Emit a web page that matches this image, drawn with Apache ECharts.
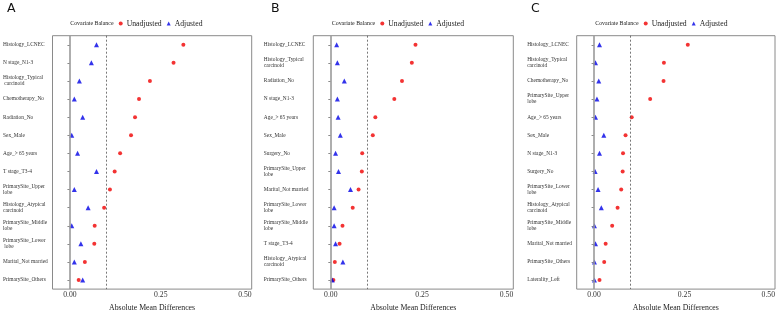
<!DOCTYPE html>
<html>
<head>
<meta charset="utf-8">
<script src="https://cdn.jsdelivr.net/npm/echarts@6/dist/echarts.min.js"></script>
<style>
  html, body { margin: 0; padding: 0; background: #fff; }
  #chart { width: 778px; height: 317px; }
</style>
</head>
<body>
<div id="chart"></div>
<script>
// covariate names, top to bottom, one list per panel
const catsA = ['Histology_LCNEC', 'N stage_N1-3', 'Histology_Typical\n carcinoid', 'Chemotherapy_No', 'Radiation_No',
  'Sex_Male', 'Age_> 65 years', 'T stage_T3-4', 'PrimarySite_Upper\nlobe', 'Histology_Atypical\ncarcinoid',
  'PrimarySite_Middle\nlobe', 'PrimarySite_Lower\n lobe', 'Marital_Not married', 'PrimarySite_Others'];
const unadjA = [0.312, 0.285, 0.220, 0.190, 0.179, 0.168, 0.138, 0.123, 0.110, 0.094, 0.068, 0.067, 0.041, 0.024];
const adjA = [0.073, 0.059, 0.026, 0.012, 0.035, 0.005, 0.021, 0.073, 0.012, 0.050, 0.005, 0.030, 0.012, 0.035];

const catsB = ['Histology_LCNEC', 'Histology_Typical\ncarcinoid', 'Radiation_No', 'N stage_N1-3', 'Age_> 65 years',
  'Sex_Male', 'Surgery_No', 'PrimarySite_Upper\nlobe', 'Marital_Not married', 'PrimarySite_Lower\nlobe',
  'PrimarySite_Middle\nlobe', 'T stage_T3-4', 'Histology_Atypical\ncarcinoid', 'PrimarySite_Others'];
const unadjB = [0.232, 0.222, 0.195, 0.174, 0.122, 0.115, 0.086, 0.085, 0.076, 0.060, 0.032, 0.024, 0.011, 0.007];
const adjB = [0.016, 0.018, 0.037, 0.018, 0.020, 0.026, 0.013, 0.021, 0.054, 0.009, 0.009, 0.013, 0.033, 0.004];

const catsC = ['Histology_LCNEC', 'Histology_Typical\ncarcinoid', 'Chemotherapy_No', 'PrimarySite_Upper\nlobe',
  'Age_> 65 years', 'Sex_Male', 'N stage_N1-3', 'Surgery_No', 'PrimarySite_Lower\nlobe',
  'Histology_Atypical\ncarcinoid', 'PrimarySite_Middle\nlobe', 'Marital_Not married', 'PrimarySite_Others', 'Laterality_Left'];
const unadjC = [0.259, 0.193, 0.192, 0.155, 0.104, 0.087, 0.080, 0.079, 0.075, 0.065, 0.050, 0.032, 0.028, 0.015];
const adjC = [0.015, 0.004, 0.013, 0.008, 0.004, 0.027, 0.015, 0.003, 0.011, 0.020, 0.001, 0.004, 0.001, 0.001];

const xTicks = [0, 0.25, 0.5];
const panelLetters = ['A', 'B', 'C'];

const panels = [
  { cats: catsA, unadj: unadjA, adj: adjA, left: 51.7, letterX: 7 },
  { cats: catsB, unadj: unadjB, adj: adjB, left: 313.3, letterX: 271 },
  { cats: catsC, unadj: unadjC, adj: adjC, left: 576.7, letterX: 531 },
];

const serif = 'Liberation Serif, Times New Roman, serif';
const RED = '#f00000';
const BLUE = '#0000e6';

const grid = [], xAxis = [], yAxis = [], series = [], title = [], legend = [];

panels.forEach((p, i) => {
  grid.push({
    left: p.left, top: 35.7, width: 200, height: 260,
    show: true, borderColor: '#8a8a8a', borderWidth: 1, backgroundColor: '#fff',
  });
  xAxis.push({
    gridIndex: i, type: 'value', min: -0.048, max: 0.5,
    axisLine: { show: false },
    axisTick: { show: false },
    splitLine: { show: false },
    axisLabel: {
      customValues: xTicks,
      formatter: (v) => v.toFixed(2),
      fontFamily: serif, fontSize: 7.7, color: '#333', margin: 2,
      alignMaxLabel: 'right',
    },
    name: 'Absolute Mean Differences',
    nameLocation: 'middle', nameGap: 10,
    nameTextStyle: { fontFamily: serif, fontSize: 7.8, color: '#222' },
  });
  yAxis.push({
    gridIndex: i, type: 'category', inverse: true, data: p.cats,
    axisLine: { show: false },
    axisTick: { show: true, alignWithLabel: true, length: 2.5, lineStyle: { color: '#8a8a8a' } },
    axisLabel: {
      align: 'left', margin: 49.5, fontFamily: serif, fontSize: 5.4, lineHeight: 6,
      color: '#333', interval: 0,
    },
  });
  series.push({
    name: 'Unadjusted', type: 'scatter', xAxisIndex: i, yAxisIndex: i,
    data: p.unadj, symbol: 'circle', symbolSize: 4,
    itemStyle: { color: RED },
    z: 3,
    markLine: {
      silent: true, symbol: 'none', label: { show: false },
      data: [
        { xAxis: 0, lineStyle: { type: 'solid', color: '#9a9a9a', width: 1.6 } },
        { xAxis: 0.1, lineStyle: { type: [2, 2], color: '#555', width: 0.8 } },
      ],
    },
  });
  series.push({
    name: 'Adjusted', type: 'scatter', xAxisIndex: i, yAxisIndex: i,
    data: p.adj, symbol: 'triangle', symbolSize: 5,
    itemStyle: { color: BLUE },
    z: 4,
  });
  // panel letter
  title.push({
    text: panelLetters[i], left: p.letterX, top: 2, padding: 0,
    textStyle: { fontFamily: 'DejaVu Sans, sans-serif', fontSize: 12.5, fontWeight: 'normal', color: '#111' },
  });
  // legend caption
  title.push({
    text: 'Covariate Balance', left: p.left + 18.5, top: 20.5,
    padding: 0,
    textStyle: { fontFamily: serif, fontSize: 5.9, fontWeight: 'normal', color: '#222' },
  });
  legend.push({
    left: p.left + 67, top: 19.5, padding: 0,
    itemWidth: 4, itemHeight: 4, itemGap: 5,
    selectedMode: false,
    data: [
      { name: 'Unadjusted', icon: 'circle' },
      { name: 'Adjusted', icon: 'triangle' },
    ],
    textStyle: { fontFamily: serif, fontSize: 7.7, color: '#222', padding: [0, 0, 0, -1] },
  });
});

const chart = echarts.init(document.getElementById('chart'), null, { renderer: 'canvas' });
chart.setOption({
  animation: false,
  backgroundColor: '#fff',
  title, legend, grid, xAxis, yAxis, series,
});
</script>
</body>
</html>
